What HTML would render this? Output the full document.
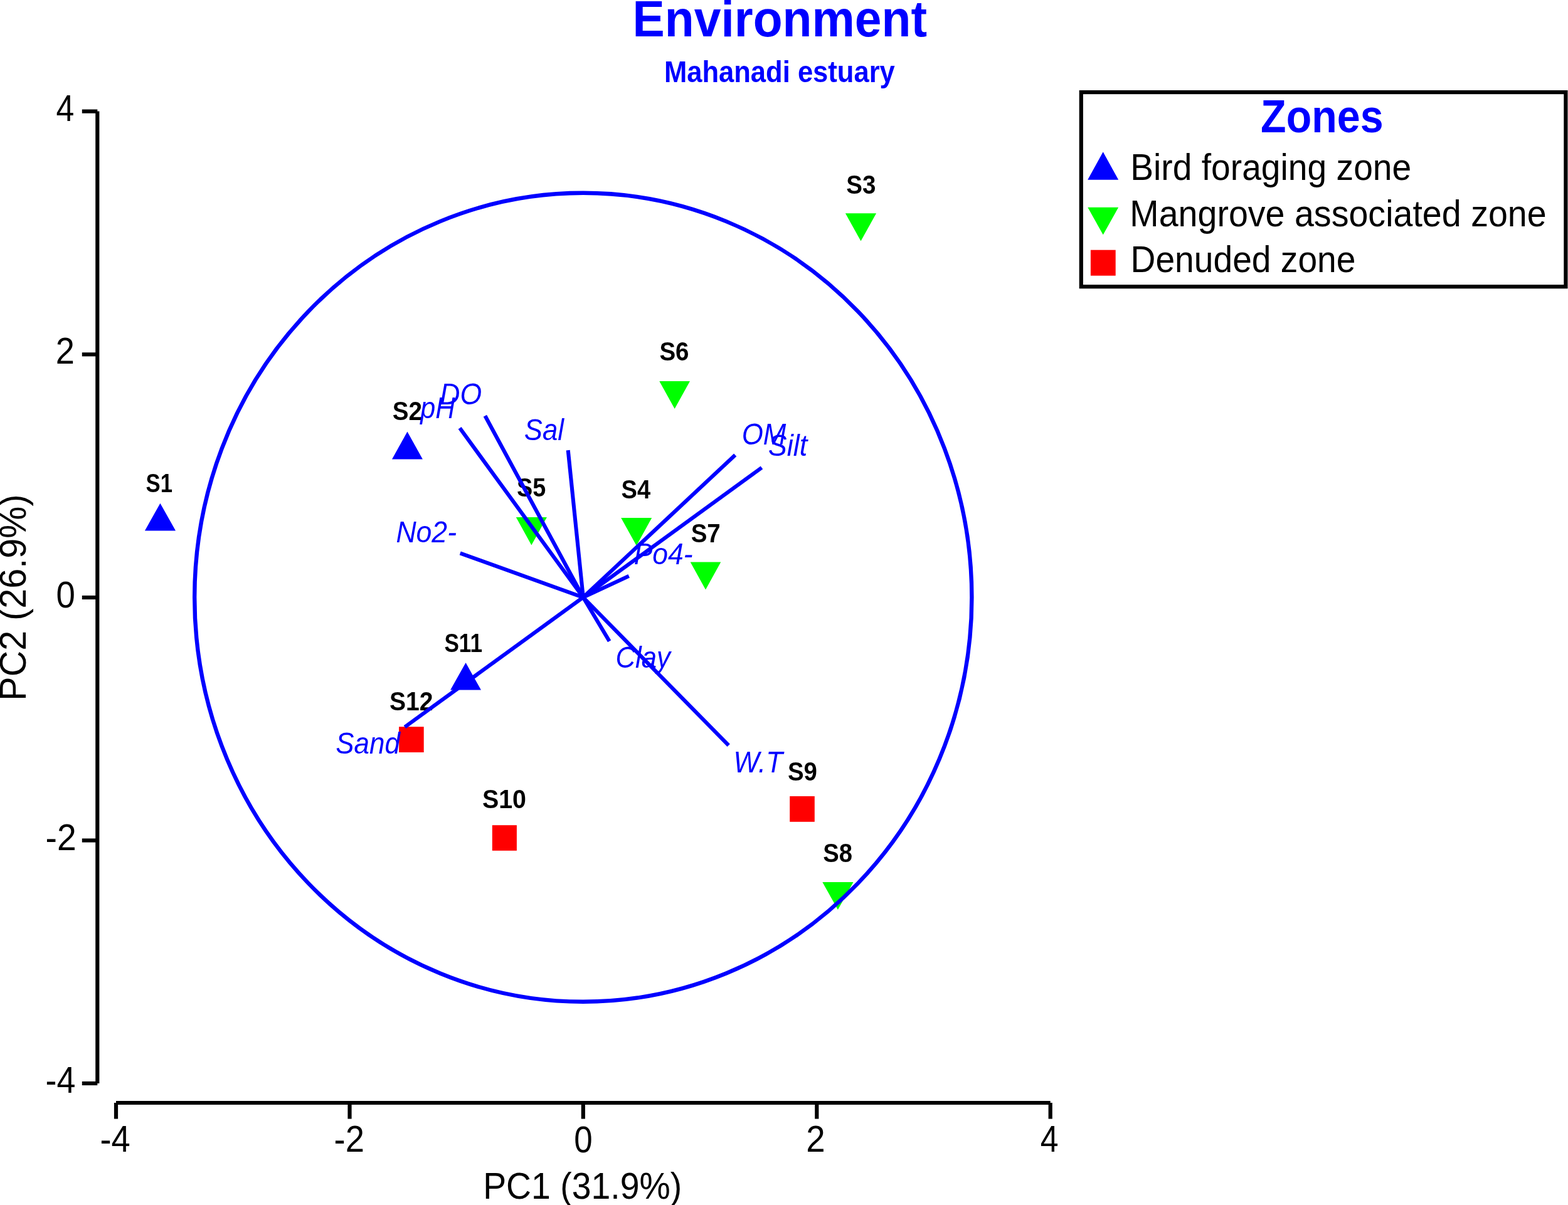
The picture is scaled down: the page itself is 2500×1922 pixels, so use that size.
<!DOCTYPE html>
<html><head><meta charset="utf-8"><title>Environment - Mahanadi estuary PCA</title>
<style>
html,body{margin:0;padding:0;background:#fff;}
body{width:2500px;height:1922px;overflow:hidden;}
svg{display:block;}
text{font-family:"Liberation Sans",Arial,sans-serif;}
</style></head>
<body>
<svg width="2500" height="1922" viewBox="0 0 2500 1922">
<rect width="2500" height="1922" fill="#fff"/>
<line x1="155.3" y1="177.6" x2="155.3" y2="1728" stroke="#000" stroke-width="6.2"/>
<line x1="130.8" y1="177.6" x2="155.3" y2="177.6" stroke="#000" stroke-width="6.2"/>
<line x1="130.8" y1="565.3" x2="155.3" y2="565.3" stroke="#000" stroke-width="6.2"/>
<line x1="130.8" y1="953.0" x2="155.3" y2="953.0" stroke="#000" stroke-width="6.2"/>
<line x1="130.8" y1="1340.5" x2="155.3" y2="1340.5" stroke="#000" stroke-width="6.2"/>
<line x1="130.8" y1="1728.0" x2="155.3" y2="1728.0" stroke="#000" stroke-width="6.2"/>
<line x1="185" y1="1759" x2="1674.7" y2="1759" stroke="#000" stroke-width="6.2"/>
<line x1="185.0" y1="1759" x2="185.0" y2="1784.6" stroke="#000" stroke-width="6.2"/>
<line x1="557.5" y1="1759" x2="557.5" y2="1784.6" stroke="#000" stroke-width="6.2"/>
<line x1="929.8" y1="1759" x2="929.8" y2="1784.6" stroke="#000" stroke-width="6.2"/>
<line x1="1302.3" y1="1759" x2="1302.3" y2="1784.6" stroke="#000" stroke-width="6.2"/>
<line x1="1674.7" y1="1759" x2="1674.7" y2="1784.6" stroke="#000" stroke-width="6.2"/>
<text transform="translate(89.61 192.90) scale(0.8811 1)" font-size="58.79" font-weight="normal" font-style="normal" fill="#000000">4</text>
<text transform="translate(88.87 579.90) scale(0.9223 1)" font-size="58.79" font-weight="normal" font-style="normal" fill="#000000">2</text>
<text transform="translate(89.47 968.80) scale(0.9288 1)" font-size="58.79" font-weight="normal" font-style="normal" fill="#000000">0</text>
<text transform="translate(72.54 1356.20) scale(0.9400 1)" font-size="58.79" font-weight="normal" font-style="normal" fill="#000000">-2</text>
<text transform="translate(72.61 1742.50) scale(0.9158 1)" font-size="58.79" font-weight="normal" font-style="normal" fill="#000000">-4</text>
<text transform="translate(159.49 1837.10) scale(0.9241 1)" font-size="58.79" font-weight="normal" font-style="normal" fill="#000000">-4</text>
<text transform="translate(532.58 1837.20) scale(0.9250 1)" font-size="58.79" font-weight="normal" font-style="normal" fill="#000000">-2</text>
<text transform="translate(915.13 1837.70) scale(0.9003 1)" font-size="58.79" font-weight="normal" font-style="normal" fill="#000000">0</text>
<text transform="translate(1285.25 1837.20) scale(0.9297 1)" font-size="58.79" font-weight="normal" font-style="normal" fill="#000000">2</text>
<text transform="translate(1658.81 1837.10) scale(0.8811 1)" font-size="58.79" font-weight="normal" font-style="normal" fill="#000000">4</text>
<text transform="translate(770.16 1911.70) scale(0.9282 1)" font-size="59.66" font-weight="normal" font-style="normal" fill="#000000">PC1 (31.9%)</text>
<text transform="translate(41.00 1117.72) rotate(-90) scale(0.9645 1)" font-size="59.66" font-weight="normal" font-style="normal" fill="#000000">PC2 (26.9%)</text>
<text transform="translate(1008.56 57.90) scale(0.9391 1)" font-size="81.81" font-weight="bold" font-style="normal" fill="#0000ff">Environment</text>
<text transform="translate(1058.89 130.50) scale(0.8949 1)" font-size="48.69" font-weight="bold" font-style="normal" fill="#0000ff">Mahanadi estuary</text>
<polygon points="255.45,802.7 280.0,846.6 230.9,846.6" fill="#0000ff"/>
<polygon points="649.45,688.6 673.9,732.5 625.0,732.5" fill="#0000ff"/>
<polygon points="1347.9,340.2 1397.1,340.2 1372.50,384.6" fill="#00ff00"/>
<polygon points="990.2,825.9 1039.2,825.9 1014.70,870.3" fill="#00ff00"/>
<polygon points="822.8,825.0 871.9,825.0 847.35,869.5" fill="#00ff00"/>
<polygon points="1051.3,607.9 1100.0,607.9 1075.65,652.1" fill="#00ff00"/>
<polygon points="1100.7,896.4 1149.3,896.4 1125.00,940.5" fill="#00ff00"/>
<polygon points="1311.3,1407.0 1360.5,1407.0 1335.90,1451.1" fill="#00ff00"/>
<rect x="1259.2" y="1270.0" width="39.60" height="40.80" fill="#ff0000"/>
<rect x="784.8" y="1316.2" width="39.10" height="40.60" fill="#ff0000"/>
<polygon points="742.55,1057.0 767.0,1100.6 718.1,1100.6" fill="#0000ff"/>
<rect x="636.1" y="1159.2" width="39.60" height="40.80" fill="#ff0000"/>
<text transform="translate(232.60 785.10) scale(0.8045 1)" font-size="43.16" font-weight="bold" font-style="normal" fill="#000000">S1</text>
<text transform="translate(625.69 670.00) scale(0.8933 1)" font-size="43.16" font-weight="bold" font-style="normal" fill="#000000">S2</text>
<text transform="translate(1349.29 308.80) scale(0.8923 1)" font-size="43.16" font-weight="bold" font-style="normal" fill="#000000">S3</text>
<text transform="translate(990.60 794.90) scale(0.8828 1)" font-size="43.16" font-weight="bold" font-style="normal" fill="#000000">S4</text>
<text transform="translate(824.01 792.10) scale(0.8760 1)" font-size="43.16" font-weight="bold" font-style="normal" fill="#000000">S5</text>
<text transform="translate(1051.39 575.30) scale(0.8923 1)" font-size="43.16" font-weight="bold" font-style="normal" fill="#000000">S6</text>
<text transform="translate(1101.69 864.80) scale(0.8923 1)" font-size="43.16" font-weight="bold" font-style="normal" fill="#000000">S7</text>
<text transform="translate(1312.20 1374.90) scale(0.8862 1)" font-size="43.16" font-weight="bold" font-style="normal" fill="#000000">S8</text>
<text transform="translate(1255.99 1244.50) scale(0.8890 1)" font-size="43.16" font-weight="bold" font-style="normal" fill="#000000">S9</text>
<text transform="translate(768.97 1288.90) scale(0.9122 1)" font-size="43.16" font-weight="bold" font-style="normal" fill="#000000">S10</text>
<text transform="translate(708.39 1039.70) scale(0.8151 1)" font-size="43.16" font-weight="bold" font-style="normal" fill="#000000">S11</text>
<text transform="translate(620.97 1132.80) scale(0.9049 1)" font-size="43.16" font-weight="bold" font-style="normal" fill="#000000">S12</text>
<line x1="929.8" y1="952.8" x2="773.4" y2="663.3" stroke="#0000ff" stroke-width="6.1"/>
<line x1="929.8" y1="952.8" x2="733.1" y2="682.8" stroke="#0000ff" stroke-width="6.1"/>
<line x1="929.8" y1="952.8" x2="905.7" y2="718.1" stroke="#0000ff" stroke-width="6.1"/>
<line x1="929.8" y1="952.8" x2="1172.2" y2="725.7" stroke="#0000ff" stroke-width="6.1"/>
<line x1="929.8" y1="952.8" x2="1214.5" y2="745.9" stroke="#0000ff" stroke-width="6.1"/>
<line x1="929.8" y1="952.8" x2="733.7" y2="882.3" stroke="#0000ff" stroke-width="6.1"/>
<line x1="929.8" y1="952.8" x2="1002.7" y2="918.7" stroke="#0000ff" stroke-width="6.1"/>
<line x1="929.8" y1="952.8" x2="971.6" y2="1022.7" stroke="#0000ff" stroke-width="6.1"/>
<line x1="929.8" y1="952.8" x2="1161.7" y2="1188.9" stroke="#0000ff" stroke-width="6.1"/>
<line x1="929.8" y1="952.8" x2="645.4" y2="1159.6" stroke="#0000ff" stroke-width="6.1"/>
<text transform="translate(701.23 644.80) scale(0.9104 1)" font-size="48.93" font-weight="normal" font-style="italic" fill="#0000ff">DO</text>
<text transform="translate(670.17 666.70) scale(0.8808 1)" font-size="48.93" font-weight="normal" font-style="italic" fill="#0000ff">pH</text>
<text transform="translate(835.76 701.60) scale(0.8931 1)" font-size="48.93" font-weight="normal" font-style="italic" fill="#0000ff">Sal</text>
<text transform="translate(1182.63 708.70) scale(0.8955 1)" font-size="48.93" font-weight="normal" font-style="italic" fill="#0000ff">OM</text>
<text transform="translate(1224.73 727.00) scale(0.9198 1)" font-size="48.93" font-weight="normal" font-style="italic" fill="#0000ff">Silt</text>
<text transform="translate(631.43 864.90) scale(0.9107 1)" font-size="48.93" font-weight="normal" font-style="italic" fill="#0000ff">No2-</text>
<text transform="translate(1010.73 899.70) scale(0.9083 1)" font-size="48.93" font-weight="normal" font-style="italic" fill="#0000ff">Po4-</text>
<text transform="translate(981.49 1064.90) scale(0.8931 1)" font-size="48.93" font-weight="normal" font-style="italic" fill="#0000ff">Clay</text>
<text transform="translate(1169.42 1231.70) scale(0.8934 1)" font-size="48.93" font-weight="normal" font-style="italic" fill="#0000ff">W.T</text>
<text transform="translate(535.26 1202.40) scale(0.8978 1)" font-size="48.93" font-weight="normal" font-style="italic" fill="#0000ff">Sand</text>
<ellipse cx="929.8" cy="952.8" rx="619.6" ry="645.0" fill="none" stroke="#0000ff" stroke-width="6.4"/>
<rect x="1723.8" y="147.1" width="772.6" height="310.1" fill="none" stroke="#000" stroke-width="6.2"/>
<text transform="translate(2010.12 210.90) scale(0.9046 1)" font-size="73.39" font-weight="bold" font-style="normal" fill="#0000ff">Zones</text>
<polygon points="1758.70,242.3 1783.2,286.7 1734.2,286.7" fill="#0000ff"/>
<polygon points="1734.3,330.8 1783.2,330.8 1758.75,374.6" fill="#00ff00"/>
<rect x="1738.9" y="398.7" width="39.80" height="41.00" fill="#ff0000"/>
<text transform="translate(1802.27 286.50) scale(0.9284 1)" font-size="59.45" font-weight="normal" font-style="normal" fill="#000000">Bird foraging zone</text>
<text transform="translate(1801.34 360.90) scale(0.9351 1)" font-size="59.45" font-weight="normal" font-style="normal" fill="#000000">Mangrove associated zone</text>
<text transform="translate(1802.57 433.90) scale(0.9282 1)" font-size="59.45" font-weight="normal" font-style="normal" fill="#000000">Denuded zone</text>
</svg>
</body></html>
